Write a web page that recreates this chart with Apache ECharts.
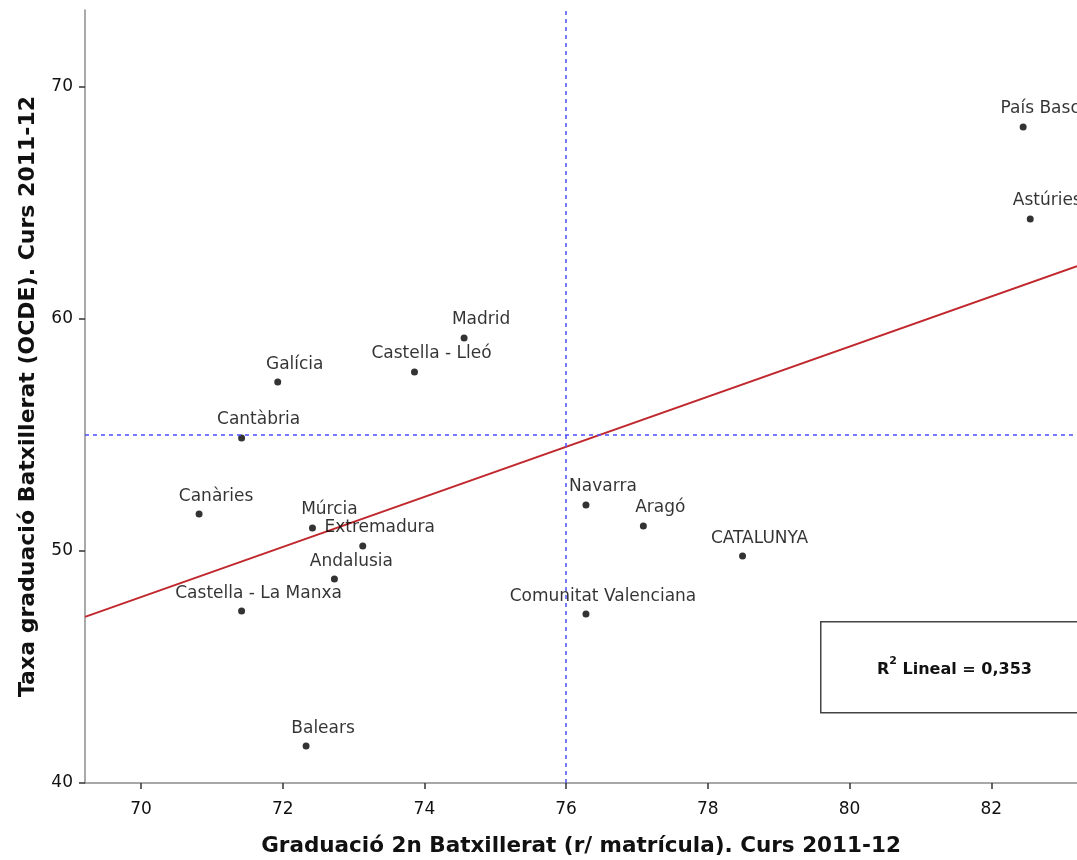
<!DOCTYPE html>
<html>
<head>
<meta charset="utf-8">
<script src="https://cdn.jsdelivr.net/npm/echarts@6/dist/echarts.min.js"></script>
<style>
  html, body { margin: 0; padding: 0; background: #ffffff; }
  #chart { width: 1077px; height: 860px; }
</style>
</head>
<body>
<div id="chart"></div>
<script>
// comunitats: [graduació 2n batx (r/ matrícula), taxa graduació OCDE]
var regions = ['País Basc', 'Astúries', 'Madrid', 'Castella - Lleó', 'Galícia', 'Cantàbria',
  'Canàries', 'Múrcia', 'Extremadura', 'Andalusia', 'Castella - La Manxa', 'Balears',
  'Navarra', 'Aragó', 'CATALUNYA', 'Comunitat Valenciana']
var xValues = [82.45, 82.55, 74.56, 73.86, 71.93, 71.42,
  70.82, 72.42, 73.13, 72.73, 71.42, 72.33,
  76.28, 77.09, 78.49, 76.28]
var yValues = [68.28, 64.31, 59.18, 57.72, 57.28, 54.87,
  51.59, 50.99, 50.22, 48.79, 47.41, 41.59,
  51.98, 51.08, 49.78, 47.28]

// recta de regressió (extrems llegits del gràfic)
var fitLine = [[69.21, 47.16], [83.21, 62.28]]
var refX = 76
var refY = 55
var r2Text = '0,353'

var xTicks = [70, 72, 74, 76, 78, 80, 82]
var yTicks = [40, 50, 60, 70]

var points = regions.map(function (name, i) {
  return { name: name, value: [xValues[i], yValues[i]] }
})

var font = '"DejaVu Sans", "Liberation Sans", Arial, sans-serif'

var myChart = echarts.init(document.getElementById('chart'))
myChart.setOption({
  animation: false,
  textStyle: { fontFamily: font },
  grid: { left: 85, top: 10, right: 0, bottom: 77, containLabel: false, outerBoundsMode: 'none' },
  xAxis: {
    type: 'value',
    min: 69.21,
    max: 83.21,
    name: 'Graduació 2n Batxillerat (r/ matrícula). Curs 2011-12',
    nameLocation: 'middle',
    nameGap: 52,
    nameTextStyle: { fontSize: 21.5, fontWeight: 'bold', color: '#111', fontFamily: font },
    splitLine: { show: false },
    axisLine: { lineStyle: { color: '#8c8c8c', width: 1.5 } },
    axisTick: { show: true, length: 6, customValues: xTicks, lineStyle: { color: '#333', width: 1.5 } },
    axisLabel: { customValues: xTicks, margin: 18, fontSize: 17, color: '#111', fontFamily: font }
  },
  yAxis: {
    type: 'value',
    min: 40,
    max: 73.32,
    name: 'Taxa graduació Batxillerat (OCDE). Curs 2011-12',
    nameLocation: 'middle',
    nameRotate: 90,
    nameGap: 46,
    nameTextStyle: { fontSize: 22, fontWeight: 'bold', color: '#111', fontFamily: font },
    splitLine: { show: false },
    axisLine: { lineStyle: { color: '#8c8c8c', width: 1.5 } },
    axisTick: { show: true, length: 6, customValues: yTicks, lineStyle: { color: '#333', width: 1.5 } },
    axisLabel: { customValues: yTicks, margin: 12, fontSize: 17, color: '#111', fontFamily: font }
  },
  series: [
    {
      type: 'line',
      data: fitLine,
      symbol: 'none',
      lineStyle: { color: '#c0282d', width: 2 },
      silent: true,
      z: 2,
      markLine: {
        silent: true,
        symbol: 'none',
        label: { show: false },
        lineStyle: { color: '#4d4dff', width: 1.5, type: [4, 4] },
        data: [{ xAxis: refX }, { yAxis: refY }]
      }
    },
    {
      type: 'scatter',
      data: points,
      symbol: 'circle',
      symbolSize: 7,
      itemStyle: { color: '#000' },
      z: 3,
      label: {
        show: true,
        position: 'top',
        distance: 5,
        offset: [17, -1],
        formatter: '{b}',
        fontSize: 17,
        color: '#000',
        fontFamily: font
      }
    }
  ],
  graphic: [
    {
      type: 'rect',
      left: 820,
      top: 621,
      shape: { width: 270, height: 91 },
      style: { fill: '#fff', stroke: '#444', lineWidth: 1.5 },
      z: 10
    },
    {
      type: 'text',
      left: 877,
      top: 656,
      z: 11,
      style: {
        text: '{b|R}{s|2}{b| Lineal = ' + r2Text + '}',
        rich: {
          b: { fontSize: 16, fontWeight: 'bold', fill: '#111', fontFamily: font, verticalAlign: 'bottom', lineHeight: 22 },
          s: { fontSize: 11, fontWeight: 'bold', fill: '#111', fontFamily: font, verticalAlign: 'top', lineHeight: 22 }
        }
      }
    }
  ]
})
</script>
</body>
</html>
